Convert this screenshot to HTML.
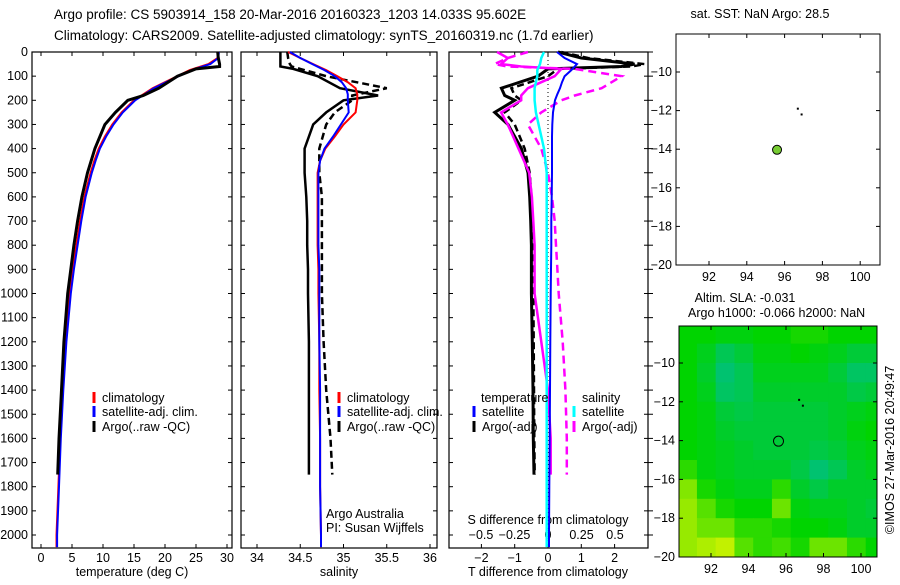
<!DOCTYPE html>
<html><head><meta charset="utf-8"><style>
body{margin:0;background:#fff;width:900px;height:580px;overflow:hidden}
svg{font-family:"Liberation Sans",sans-serif;font-size:12.5px}
</style></head><body>
<svg id="s" width="900" height="580" xmlns="http://www.w3.org/2000/svg">
<defs><clipPath id="mc"><rect x="679" y="326" width="198" height="231"/></clipPath></defs>
<text x="54" y="19" font-size="13.5">Argo profile: CS 5903914_158 20-Mar-2016 20160323_1203 14.033S 95.602E</text>
<text x="54" y="40" font-size="13.5">Climatology: CARS2009. Satellite-adjusted climatology: synTS_20160319.nc (1.7d earlier)</text>
<text x="760" y="18" text-anchor="middle">sat. SST: NaN Argo: 28.5</text>
<text x="745" y="302" text-anchor="middle">Altim. SLA: -0.031</text>
<text x="688" y="317">Argo h1000: -0.066 h2000: NaN</text>
<text transform="translate(894,450) rotate(-90)" text-anchor="middle">©IMOS 27-Mar-2016 20:49:47</text>
<g id="hm" clip-path="url(#mc)"></g>
</svg>
<script>
const depths=[0,25,50,75,100,125,150,175,200,250,300,350,400,450,500,600,700,800,900,1000,1200,1400,1600,1800,2000,2050];
const tempClim=[28.5,28.5,27,24,22,20,18,16.5,15,13,11.5,10.3,9.3,8.6,8,7,6.3,5.7,5.1,4.6,4,3.5,3.1,2.8,2.5,2.5];
const tempSat=[28.7,28.6,27.3,24.3,22.2,20.2,18.2,16.7,15.2,13.2,11.7,10.5,9.5,8.8,8.2,7.2,6.5,5.9,5.3,4.8,4.1,3.6,3.2,2.9,2.6,2.6];
const argoDepths=[0,25,50,60,70,100,150,180,200,250,300,400,500,600,700,800,900,1000,1200,1400,1600,1750];
const tempArgo=[28.5,28.6,28.8,28.8,25,22,19,16.5,14,12,10.3,8.7,7.5,6.6,5.9,5.3,4.8,4.3,3.7,3.3,2.9,2.7];
const salClim=[34.36,34.5,34.65,34.8,34.93,35.05,35.14,35.16,35.16,35.14,35.0,34.9,34.79,34.73,34.70,34.70,34.70,34.70,34.71,34.71,34.72,34.72,34.73,34.73,34.74,34.74];
const salSat=[34.38,34.5,34.64,34.78,34.9,34.98,35.03,35.05,35.05,35.06,34.97,34.88,34.78,34.73,34.71,34.71,34.71,34.71,34.72,34.72,34.72,34.73,34.73,34.73,34.74,34.74];
const salArgo=[34.27,34.27,34.27,34.27,34.42,34.7,34.96,35.4,35.0,34.8,34.65,34.55,34.55,34.57,34.58,34.58,34.59,34.59,34.6,34.6,34.6,34.6];
const salArgoRaw=[34.35,34.36,34.38,34.4,34.5,34.8,35.5,35.1,35.1,34.9,34.8,34.72,34.72,34.75,34.75,34.75,34.75,34.75,34.77,34.8,34.85,34.87];
const dTsat=[0.27,0.5,0.87,0.7,0.5,0.42,0.36,0.28,0.21,0.15,0.13,0.12,0.12,0.12,0.12,0.11,0.1,0.1,0.09,0.08,0.07,0.06,0.05,0.04,0.03,0.03];
const dTargo=[0.3,1.0,2.6,2.2,0.0,-0.3,-1.4,-1.3,-1.0,-1.6,-1.2,-0.8,-0.6,-0.55,-0.52,-0.5,-0.5,-0.5,-0.47,-0.45,-0.44,-0.42];
const dTargoRaw=[0.4,1.2,2.9,2.5,0.3,0.0,-1.1,-1.0,-0.8,-1.3,-1.0,-0.7,-0.55,-0.5,-0.48,-0.46,-0.45,-0.44,-0.43,-0.42,-0.41,-0.4];
const dSsat=[-0.03,-0.05,-0.06,-0.08,-0.08,-0.09,-0.1,-0.1,-0.1,-0.09,-0.07,-0.05,-0.03,-0.02,-0.01,-0.01,-0.01,-0.01,-0.01,-0.01,-0.01,-0.01,-0.01,-0.01,-0.01,-0.01];
const dSargo=[-0.38,-0.3,-0.35,-0.2,0.1,0.05,-0.15,-0.2,-0.2,-0.35,-0.3,-0.22,-0.14,-0.12,-0.11,-0.1,-0.1,-0.1,-0.05,0.0,0.02,0.02];
const dSargoRaw=[-0.15,-0.3,-0.4,-0.3,0.2,0.55,0.4,0.2,0.1,-0.05,-0.15,-0.05,0.0,0.03,0.05,0.06,0.07,0.08,0.11,0.13,0.14,0.14];
const depthTicks=[0,100,200,300,400,500,600,700,800,900,1000,1100,1200,1300,1400,1500,1600,1700,1800,1900,2000];
const tempTicks=[0,5,10,15,20,25,30];
const salTicks=[34,34.5,35,35.5,36];
const dTTicks=[-2,-1,0,1,2];
const dSTicks=[-0.5,-0.25,0,0.25,0.5];
const sstLat=[-10,-12,-14,-16,-18,-20];
const lonTicks=[92,94,96,98,100];
const argoPos=[95.6,-14.03];
const trackPts=[[96.9,-12.2],[96.7,-11.9]];
const slaGrid=[
[0.5,0.5,0.45,0.45,0.5,0.5,0.55,0.55,0.5,0.5,0.5],
[0.5,0.4,0.2,0.3,0.45,0.45,0.5,0.45,0.4,0.3,0.3],
[0.5,0.35,0.1,0.2,0.4,0.4,0.4,0.4,0.3,0.15,0.15],
[0.5,0.4,0.15,0.2,0.35,0.35,0.35,0.35,0.35,0.25,0.3],
[0.5,0.45,0.3,0.25,0.3,0.3,0.3,0.3,0.35,0.4,0.45],
[0.5,0.45,0.35,0.3,0.3,0.3,0.3,0.3,0.35,0.45,0.5],
[0.5,0.45,0.4,0.35,0.3,0.3,0.3,0.25,0.3,0.4,0.45],
[0.6,0.45,0.4,0.35,0.35,0.35,0.25,0.1,0.2,0.35,0.4],
[0.8,0.55,0.45,0.4,0.4,0.6,0.35,0.25,0.35,0.35,0.35],
[0.85,0.7,0.55,0.5,0.5,0.75,0.45,0.4,0.4,0.35,0.3],
[0.85,0.75,0.75,0.6,0.6,0.55,0.5,0.5,0.45,0.35,0.35],
[0.85,0.9,0.95,0.7,0.6,0.65,0.55,0.75,0.75,0.6,0.5]];

const S=document.getElementById('s');const HM=document.getElementById('hm');const NS='http://www.w3.org/2000/svg';
function mk(tag,a,txt,par){const e=document.createElementNS(NS,tag);for(const k in a)e.setAttribute(k,a[k]);if(txt!==undefined)e.textContent=txt;(par||S).appendChild(e);return e;}
const yD=d=>52+d*0.2415;
const xT=t=>41+t*6.2, xS=s=>257+(s-34)*86.5, xdT=v=>548+v*33.3, xdS=v=>548+v*134;
function line(xs,ds,fx,col,w,dash,name){
  const p=xs.map((v,i)=>fx(v).toFixed(1)+','+yD(ds[i]).toFixed(1)).join(' ');
  const e=mk('polyline',{points:p,fill:'none',stroke:col,'stroke-width':w,'stroke-dasharray':dash||'none'});
  
  
}
function frame(x0,x1,name){const r=mk('rect',{x:x0,y:52,width:x1-x0,height:496,fill:'none',stroke:'#000','stroke-width':1.2});
  
  }
frame(32,232,'temperature-panel');frame(241,437,'salinity-panel');frame(449,648,'difference-panel');
depthTicks.forEach(d=>{const y=yD(d);
  const t=mk('text',{x:28,y:y+4,'text-anchor':'end'},d);
  
  
  [[32,36],[228,232],[241,245],[433,437],[449,453],[644,648],[648,653]].forEach(a=>mk('line',{x1:a[0],x2:a[1],y1:y,y2:y,stroke:'#000'}));});
function xticks(arr,fx,ly){arr.forEach(v=>{const x=fx(v);mk('line',{x1:x,x2:x,y1:548,y2:544,stroke:'#000'});mk('line',{x1:x,x2:x,y1:52,y2:56,stroke:'#000'});
  const t=mk('text',{x:x,y:ly,'text-anchor':'middle'},String(v).replace('-','−'));
  
  });}
xticks(tempTicks,xT,562);xticks(salTicks,xS,562);xticks(dTTicks,xdT,562);
dSTicks.forEach(v=>{const x=xdS(v);const t=mk('text',{x:x,y:539,'text-anchor':'middle'},String(v).replace('-','−'));
  
  });
[[132,'temperature (deg C)','temperature-axis-title'],[339,'salinity','salinity-axis-title'],[548,'T difference from climatology','t-diff-axis-title']].forEach(a=>{
  const t=mk('text',{x:a[0],y:576,'text-anchor':'middle'},a[1]);
  
  });
{const t=mk('text',{x:548,y:524,'text-anchor':'middle'},'S difference from climatology');

}
mk('line',{x1:548,x2:548,y1:52,y2:548,stroke:'#000','stroke-dasharray':'1,3'});
line(tempClim,depths,xT,'#f00',2,null,'temp-climatology-line');
line(tempSat,depths,xT,'#00f',2,null,'temp-satellite-line');
line(tempArgo,argoDepths,xT,'#000',3,null,'temp-argo-line');
line(salArgo,argoDepths,xS,'#000',2.5,null,'sal-argo-line');
line(salArgoRaw,argoDepths,xS,'#000',2.5,'7,4','sal-argo-raw-line');
line(salClim,depths,xS,'#f00',2,null,'sal-climatology-line');
line(salSat,depths,xS,'#00f',2,null,'sal-satellite-line');
line(dTargo,argoDepths,xdT,'#000',3,null,'t-diff-argo-line');
line(dTargoRaw,argoDepths,xdT,'#000',2.5,'7,4','t-diff-argo-raw-line');
line(dSargo,argoDepths,xdS,'#f0f',2.5,null,'s-diff-argo-line');
line(dSargoRaw,argoDepths,xdS,'#f0f',2.5,'8,5','s-diff-argo-raw-line');
line(dTsat,depths,xdT,'#00f',2,null,'t-diff-satellite-line');
line(dSsat,depths,xdS,'#0ff',2.5,null,'s-diff-satellite-line');
function leg(x,y,col,txt,name){mk('line',{x1:x,x2:x,y1:y-10,y2:y+1,stroke:col,'stroke-width':3});
  const t=mk('text',{x:x+8,y:y},txt);
  
  }
leg(94,402,'#f00','climatology','legend-climatology');leg(94,416,'#00f','satellite-adj. clim.','legend-satellite-adj');leg(94,431,'#000','Argo(..raw -QC)','legend-argo');
leg(339,402,'#f00','climatology','legend-climatology-2');leg(339,416,'#00f','satellite-adj. clim.','legend-satellite-adj-2');leg(339,431,'#000','Argo(..raw -QC)','legend-argo-2');
{const t=mk('text',{x:481,y:402},'temperature');}
{const t=mk('text',{x:582,y:402},'salinity');}
leg(474,416,'#00f','satellite','legend-t-satellite');leg(474,431,'#000','Argo(-adj)','legend-t-argo');
leg(574,416,'#0ff','satellite','legend-s-satellite');leg(574,431,'#f0f','Argo(-adj)','legend-s-argo');
{const t=mk('text',{x:326,y:518},'Argo Australia');}
{const t=mk('text',{x:326,y:532},'PI: Susan Wijffels');}
function mapAxes(x0,x1,y0,y1,lx,ly,name){
  const r=mk('rect',{x:x0,y:y0,width:x1-x0,height:y1-y0,fill:'none',stroke:'#000'});
  
  
  sstLat.forEach(v=>{const y=ly(v);mk('line',{x1:x0,x2:x0+4,y1:y,y2:y,stroke:'#000'});mk('line',{x1:x1-4,x2:x1,y1:y,y2:y,stroke:'#000'});
    const t=mk('text',{x:x0-4,y:y+4,'text-anchor':'end'},String(v).replace('-','−'));
    
    });
  lonTicks.forEach(v=>{const x=lx(v);mk('line',{x1:x,x2:x,y1:y1,y2:y1-4,stroke:'#000'});mk('line',{x1:x,x2:x,y1:y0,y2:y0+4,stroke:'#000'});
    const t=mk('text',{x:x,y:y1+16,'text-anchor':'middle'},v);
    
    });
}
const lx1=v=>709+(v-92)*18.9, ly1=v=>72+(-10-v)*19.3;
const lx2=v=>711+(v-92)*18.75, ly2=v=>363+(-10-v)*19.4;
function cmap(v){const a=[0,190,140],b=[0,212,0],c=[216,244,0];let p,q,t;
  if(v<0.5){p=a;q=b;t=v/0.5}else{p=b;q=c;t=(v-0.5)/0.5}
  return 'rgb('+p.map((x,i)=>Math.round(x+(q[i]-x)*t)).join(',')+')';}
slaGrid.forEach((row,r)=>row.forEach((v,c)=>{
  const lo=90.25+c, la=-8+(-r);
  const x=lx2(lo),y=ly2(la),w=lx2(lo+1)-x+0.5,h=ly2(la-1)-y+0.5;
  const e=mk('rect',{x:x,y:y,width:w,height:h,fill:cmap(v)},undefined,HM);
  
  
}));
mapAxes(676,880,34,265,lx1,ly1,'sst-map');
mapAxes(679,877,326,557,lx2,ly2,'sla-map');
{const c=mk('circle',{cx:lx1(argoPos[0]),cy:ly1(argoPos[1]),r:4.5,fill:'#7c3',stroke:'#000'});
}
{const c=mk('circle',{cx:lx2(argoPos[0]),cy:ly2(argoPos[1]),r:5,fill:'none',stroke:'#000'});
}
trackPts.forEach(p=>{[[lx1,ly1],[lx2,ly2]].forEach(f=>{const e=mk('rect',{x:f[0](p[0])-1,y:f[1](p[1])-1,width:2,height:2,fill:'#000'});
  
  });});
</script>
</body></html>
